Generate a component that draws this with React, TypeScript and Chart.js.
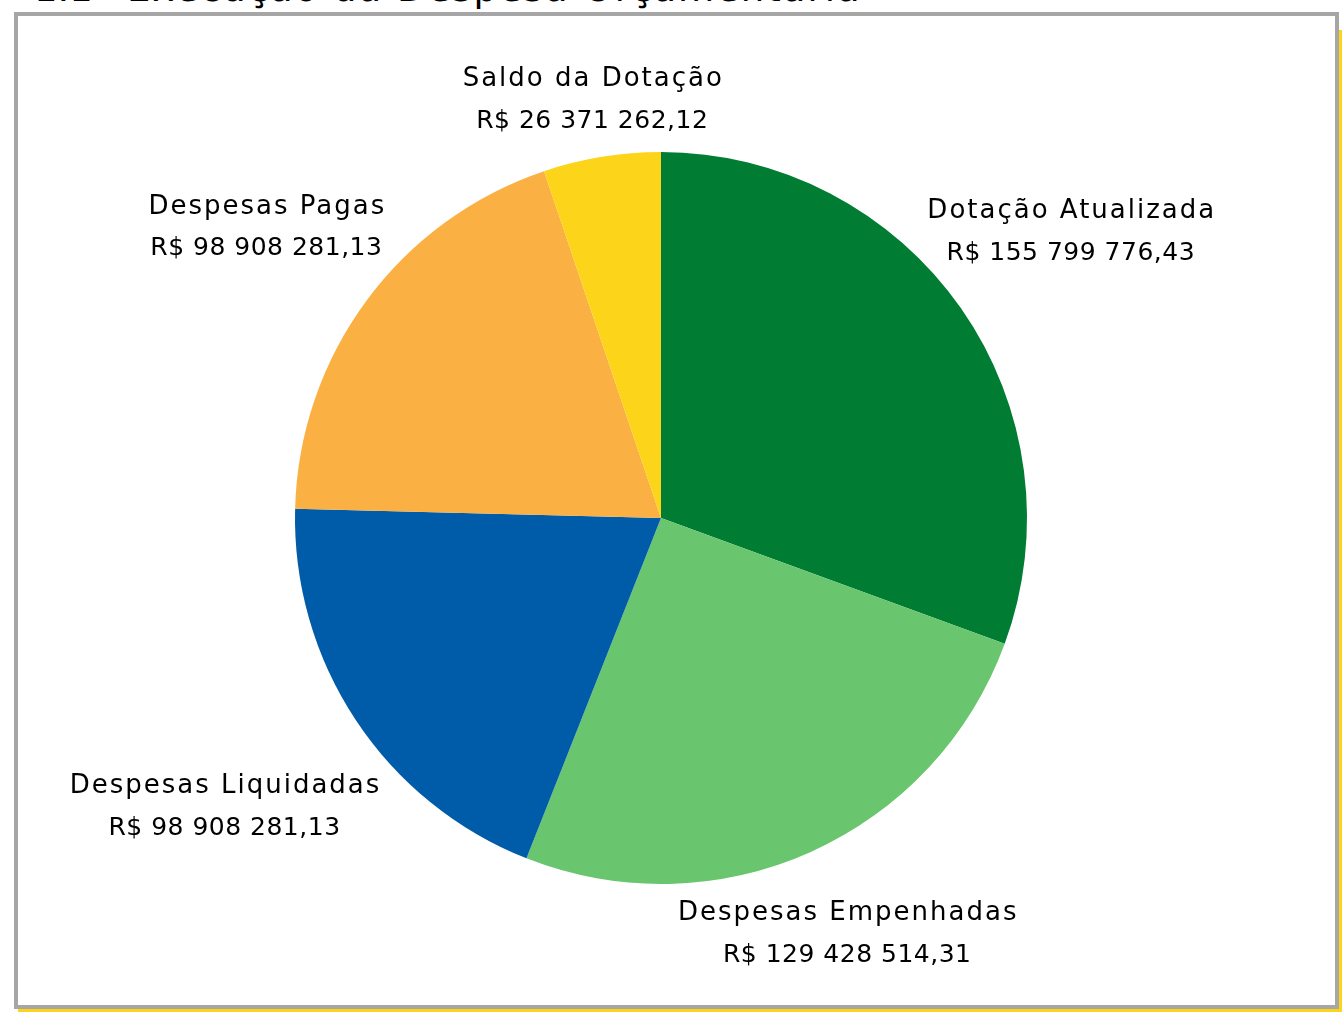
import React, { useEffect, useRef } from "react";
import { Chart, registerables } from "chart.js";

Chart.register(...registerables);

const categories = [
  "Dotação Atualizada",
  "Despesas Empenhadas",
  "Despesas Liquidadas",
  "Despesas Pagas",
  "Saldo da Dotação",
];
const values = [155799776.43, 129428514.31, 98908281.13, 98908281.13, 26371262.12];
const valueLabels = [
  "R$ 155 799 776,43",
  "R$ 129 428 514,31",
  "R$ 98 908 281,13",
  "R$ 98 908 281,13",
  "R$ 26 371 262,12",
];

const colors = ["#007D33", "#6AC66E", "#005BA8", "#FAB042", "#FCD51B"];
// radial distance of each label centre, as a multiple of the pie radius
const labelDist = [1.366, 1.243, 1.43, 1.34, 1.16];
const NAME_FONT = '26px "DejaVu Sans", sans-serif';
const VALUE_FONT = '25px "DejaVu Sans", sans-serif';

const labelPlugin = {
  id: "outerLabels",
  afterDraw(chart: any) {
    const ctx = chart.ctx;
    const meta = chart.getDatasetMeta(0);
    ctx.save();
    ctx.fillStyle = "#000";
    ctx.textAlign = "center";
    ctx.textBaseline = "middle";
    meta.data.forEach((arc: any, i: number) => {
      const { x, y, startAngle, endAngle, outerRadius } = arc.getProps(
        ["x", "y", "startAngle", "endAngle", "outerRadius"],
        true
      );
      const mid = (startAngle + endAngle) / 2;
      const d = outerRadius * labelDist[i];
      const cx = x + Math.cos(mid) * d;
      const cy = y + Math.sin(mid) * d;
      ctx.font = NAME_FONT;
      (ctx as any).letterSpacing = "2px";
      ctx.fillText(categories[i], cx + 1, cy - 20);
      ctx.font = VALUE_FONT;
      (ctx as any).letterSpacing = "0.5px";
      ctx.fillText(valueLabels[i], cx, cy + 22);
    });
    ctx.restore();
  },
};

export default function App() {
  const ref = useRef<HTMLCanvasElement>(null);
  useEffect(() => {
    if (!ref.current) return;
    const chart = new Chart(ref.current, {
      type: "pie",
      data: {
        labels: categories,
        datasets: [
          {
            data: values,
            backgroundColor: colors,
            borderWidth: 0,
          },
        ],
      },
      options: {
        animation: false,
        responsive: false,
        layout: { padding: { left: 295, right: 315, top: 152, bottom: 128 } },
        plugins: {
          legend: { display: false },
          tooltip: { enabled: false },
        },
      },
      plugins: [labelPlugin],
    });
    return () => chart.destroy();
  }, []);

  return (
    <div
      style={{
        position: "absolute",
        left: 0,
        top: 0,
        width: 1342,
        height: 1012,
        overflow: "hidden",
        background: "#fff",
      }}
    >
      <div
        style={{
          position: "absolute",
          left: 18,
          top: 30,
          width: 1324,
          height: 982,
          background: "#FCD51B",
        }}
      />
      <div
        style={{
          position: "absolute",
          left: 14,
          top: 12,
          width: 1317,
          height: 989,
          border: "4px solid #A6A6A6",
          background: "#fff",
        }}
      />
      <div
        style={{
          position: "absolute",
          left: 34,
          top: -36,
          font: '37px "DejaVu Sans", sans-serif',
          color: "#000",
          whiteSpace: "pre",
          lineHeight: "50px",
        }}
      >
        <span>1.1</span>
        <span style={{ position: "absolute", left: 93, letterSpacing: "2px" }}>
          Execução da Despesa Orçamentária
        </span>
      </div>
      <canvas
        ref={ref}
        width={1342}
        height={1012}
        style={{ position: "absolute", left: 0, top: 0 }}
      />
    </div>
  );
}
